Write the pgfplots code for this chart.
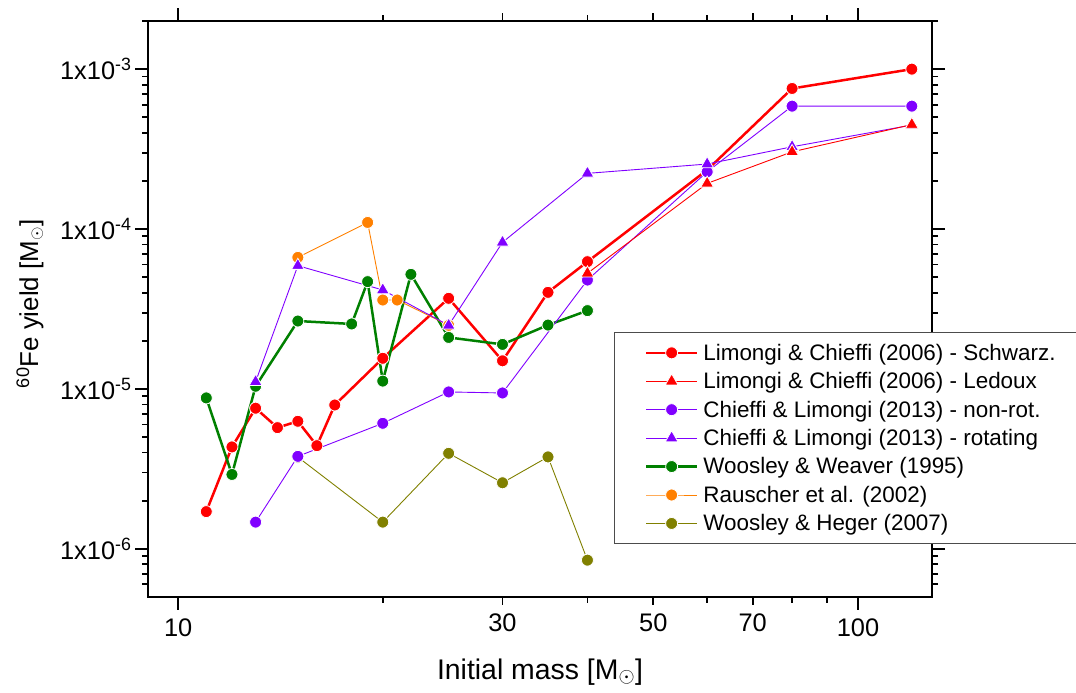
\documentclass[border=0pt]{standalone}
\usepackage{fontspec}
\setmainfont{Liberation Sans}
\usepackage{pgfplots}
\pgfplotsset{compat=1.18}

\definecolor{cRed}{RGB}{255,0,0}
\definecolor{cPurple}{RGB}{128,0,255}
\definecolor{cGreen}{RGB}{0,128,0}
\definecolor{cOrange}{RGB}{255,128,0}
\definecolor{cOlive}{RGB}{128,128,0}

\pgfplotsset{
  dot/.style={mark=*, mark size=6bp,
    mark options={solid, draw=white, line width=0.8bp, fill=#1}},
  tri/.style={mark=triangle*, mark size=7.4bp,
    mark options={solid, draw=white, line width=0.8bp, fill=#1}},
  lcS/.style={color=cRed, line width=2.5bp, dot=cRed},
  lcL/.style={color=cRed, line width=0.9bp, tri=cRed},
  clN/.style={color=cPurple, line width=0.9bp, dot=cPurple},
  clR/.style={color=cPurple, line width=0.9bp, tri=cPurple},
  ww/.style={color=cGreen, line width=2.5bp, dot=cGreen},
  rau/.style={color=cOrange, line width=0.9bp, dot=cOrange},
  wh/.style={color=cOlive, line width=0.9bp, dot=cOlive},
}

\begin{document}
\begin{tikzpicture}
\begin{axis}[
  xmode=log, ymode=log,
  scale only axis, width=784bp, height=576bp,
  at={(148bp,96bp)}, anchor=south west,
  xmin=9.03, xmax=128.5, ymin=5e-7, ymax=2e-3,
  axis line style={line width=1.8bp},
  every tick/.style={black, line width=1.8bp},
  tick align=outside,
  major tick length=13bp, minor tick length=6bp,
  xtick={10,100}, xticklabels={10,100},
  minor xtick={20,30,40,50,60,70,80,90},
  extra x ticks={30,50,70}, extra x tick labels={30,50,70},
  extra x tick style={major tick length=8bp},
  ytick={1e-6,1e-5,1e-4,1e-3},
  yticklabels={1x10\textsuperscript{-6},1x10\textsuperscript{-5},1x10\textsuperscript{-4},1x10\textsuperscript{-3}},
  minor ytick={6e-7,7e-7,8e-7,9e-7,
    2e-6,3e-6,4e-6,5e-6,6e-6,7e-6,8e-6,9e-6,
    2e-5,3e-5,4e-5,5e-5,6e-5,7e-5,8e-5,9e-5,
    2e-4,3e-4,4e-4,5e-4,6e-4,7e-4,8e-4,9e-4,2e-3},
  tick label style={font=\fontsize{25.5}{25.5}\selectfont},
  xticklabel style={yshift=-5bp},
  xlabel={Initial mass [M$_{\odot}$]},
  ylabel={\textsuperscript{60}Fe yield [M$_{\odot}$]},
  xlabel style={font=\fontsize{28.5}{28.5}\selectfont,
    at={(axis description cs:0.5,-0.1424)}, anchor=base},
  ylabel style={font=\fontsize{26}{26}\selectfont,
    at={(axis description cs:-0.1403,0.509)}, anchor=base},
  legend style={at={(axis description cs:0.595,0.46)}, anchor=north west,
    draw=black!70, line width=0.8bp, fill=white,
    font=\fontsize{22.5}{22.5}\selectfont,
    inner xsep=30bp, inner ysep=8bp, row sep=3.7bp, column sep=3bp,
    nodes={inner xsep=2bp, inner ysep=3.5bp}},
  legend cell align=left,
  legend image code/.code={
    \draw[mark repeat=2, mark phase=2]
      plot coordinates {(0bp,0bp) (25.5bp,0bp) (51bp,0bp)};},
]

% legend entries, in reading order
\addlegendimage{lcS}\addlegendentry{Limongi \& Chieffi (2006) - Schwarz.}
\addlegendimage{lcL}\addlegendentry{Limongi \& Chieffi (2006) - Ledoux}
\addlegendimage{clN}\addlegendentry{Chieffi \& Limongi (2013) - non-rot.}
\addlegendimage{clR}\addlegendentry{Chieffi \& Limongi (2013) - rotating}
\addlegendimage{ww}\addlegendentry{Woosley \& Weaver (1995)}
\addlegendimage{rau}\addlegendentry{Rauscher et al. (2002)}
\addlegendimage{wh}\addlegendentry{Woosley \& Heger (2007)}

% Limongi & Chieffi (2006), Schwarzschild criterion
\addplot[lcS, forget plot] coordinates {
  (11,1.71e-6) (12,4.34e-6) (13,7.58e-6) (14,5.73e-6) (15,6.28e-6)
  (16,4.42e-6) (17,7.94e-6) (20,1.556e-5) (25,3.69e-5) (30,1.50e-5)
  (35,4.02e-5) (40,6.25e-5) (60,2.34e-4) (80,7.57e-4) (120,1.0e-3)};

% Woosley & Weaver (1995)
\addplot[ww, forget plot] coordinates {
  (11,8.79e-6) (12,2.92e-6) (13,1.04e-5) (15,2.66e-5) (18,2.55e-5)
  (19,4.69e-5) (20,1.12e-5) (22,5.21e-5) (25,2.10e-5) (30,1.90e-5)
  (35,2.51e-5) (40,3.09e-5)};

% Rauscher et al. (2002)
\addplot[rau, forget plot] coordinates {
  (15,6.65e-5) (19,1.10e-4) (20,3.6e-5) (21,3.6e-5) (25,2.5e-5)};

% Woosley & Heger (2007)
\addplot[wh, forget plot] coordinates {
  (15,3.75e-6) (20,1.47e-6) (25,3.96e-6) (30,2.59e-6) (35,3.76e-6)
  (40,8.5e-7)};

% Chieffi & Limongi (2013), non-rotating
\addplot[clN, forget plot] coordinates {
  (13,1.47e-6) (15,3.79e-6) (20,6.10e-6) (25,9.58e-6) (30,9.44e-6)
  (40,4.80e-5) (60,2.28e-4) (80,5.87e-4) (120,5.87e-4)};

% Chieffi & Limongi (2013), rotating
\addplot[clR, forget plot] coordinates {
  (13,1.11e-5) (15,5.9e-5) (20,4.16e-5) (25,2.5e-5) (30,8.26e-5)
  (40,2.23e-4) (60,2.55e-4) (80,3.27e-4) (120,4.47e-4)};

% Limongi & Chieffi (2006), Ledoux criterion
\addplot[lcL, forget plot] coordinates {
  (40,5.29e-5) (60,1.93e-4) (80,3.04e-4) (120,4.5e-4)};

\end{axis}
\pgfresetboundingbox
\path[use as bounding box] (0,0) rectangle (1076bp,693bp);
\end{tikzpicture}
\end{document}
